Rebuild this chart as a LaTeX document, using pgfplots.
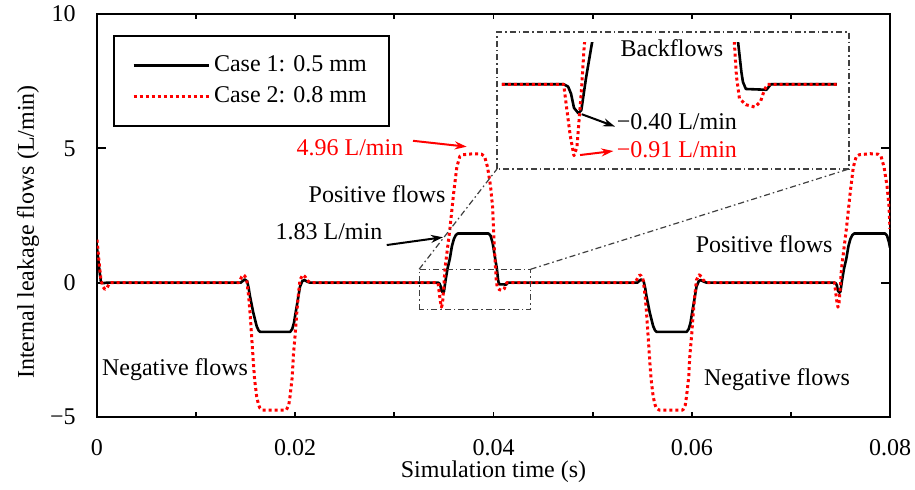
\documentclass[12pt,border=0pt]{standalone}
\usepackage{fontspec}
\setmainfont{Liberation Serif}
\usepackage{pgfplots}
\pgfplotsset{compat=1.18}
\usepackage{pgfplotstable}
\usetikzlibrary{arrows.meta}

% Case 1: 0.5 mm
\pgfplotstableread{
x y
0 1.3
0.0002 0.6
0.0004 0.02
0.0006 -0.02
0.001 0
0.0145 0
0.0146 0.03
0.0149 0.12
0.01515 0.05
0.0153 -0.2
0.01544 -0.52
0.01578 -1.14
0.01611 -1.62
0.0163 -1.78
0.01645 -1.83
0.0195 -1.83
0.0197 -1.72
0.01987 -1.5
0.0200 -1.2
0.0202 -0.77
0.02048 -0.15
0.0207 0.05
0.0209 0.1
0.0212 0.04
0.0215 0
0.0323 0
0.0344 0
0.03455 -0.03
0.03465 -0.12
0.03475 -0.3
0.0349 -0.37
0.0350 -0.33
0.03516 0.08
0.03536 0.52
0.0356 0.9
0.0358 1.35
0.0360 1.62
0.0362 1.77
0.0364 1.83
0.0395 1.83
0.0397 1.75
0.0399 1.5
0.0400 1.3
0.0401 1.05
0.04034 0.52
0.04045 0.15
0.0405 0.03
0.0406 -0.06
0.0413 -0.07
0.04145 0
0.0437 0
0.0545 0
0.0546 0.03
0.0549 0.12
0.05515 0.05
0.0553 -0.2
0.05544 -0.52
0.05578 -1.14
0.05611 -1.62
0.0563 -1.78
0.05645 -1.83
0.0595 -1.83
0.0597 -1.72
0.05987 -1.5
0.0600 -1.2
0.0602 -0.77
0.06048 -0.15
0.0607 0.05
0.0609 0.1
0.0612 0.04
0.0615 0
0.0744 0
0.07455 -0.03
0.07465 -0.12
0.07475 -0.3
0.0749 -0.37
0.0750 -0.33
0.07516 0.08
0.07536 0.52
0.0756 0.9
0.0758 1.35
0.0760 1.62
0.0762 1.77
0.0764 1.83
0.0795 1.83
0.0797 1.75
0.0799 1.5
0.0800 1.3
}\caseone

% Case 2: 0.8 mm
\pgfplotstableread{
x y
0 1.6
0.0002 0.8
0.0004 0.1
0.0006 -0.15
0.0008 -0.25
0.001 -0.2
0.0013 0
0.0143 0
0.0146 0.22
0.01476 0.29
0.0149 0.25
0.0151 0.1
0.0153 -0.5
0.01544 -1.13
0.0156 -2.0
0.01578 -3.0
0.0159 -3.6
0.01611 -4.24
0.0163 -4.55
0.01644 -4.67
0.0167 -4.74
0.0191 -4.74
0.01935 -4.55
0.01947 -4.24
0.0197 -3.5
0.0198 -2.75
0.0200 -1.9
0.02015 -1.14
0.0203 -0.5
0.02048 0.1
0.02075 0.29
0.0210 0.22
0.02115 0.1
0.0215 0
0.0323 0
0.0344 0
0.0345 -0.3
0.03462 -0.65
0.03475 -0.91
0.03485 -0.8
0.0350 -0.1
0.0351 0.5
0.0353 1.1
0.0356 2.0
0.0360 3.4
0.0363 4.3
0.0366 4.7
0.0369 4.76
0.0380 4.8
0.0388 4.78
0.0391 4.7
0.0394 4.3
0.0397 3.6
0.0399 2.85
0.0400 2.0
0.0401 1.2
0.04021 0.52
0.04028 0.1
0.04038 -0.18
0.0406 -0.26
0.0409 -0.29
0.0411 -0.22
0.04123 -0.07
0.04134 0
0.0437 0
0.0543 0
0.0546 0.22
0.05476 0.29
0.0549 0.25
0.0551 0.1
0.0553 -0.5
0.05544 -1.13
0.0556 -2.0
0.05578 -3.0
0.0559 -3.6
0.05611 -4.24
0.0563 -4.55
0.05644 -4.67
0.0567 -4.74
0.0591 -4.74
0.05935 -4.55
0.05947 -4.24
0.0597 -3.5
0.0598 -2.75
0.0600 -1.9
0.06015 -1.14
0.0603 -0.5
0.06048 0.1
0.06075 0.29
0.0610 0.22
0.06115 0.1
0.0615 0
0.0744 0
0.0745 -0.3
0.07462 -0.65
0.07475 -0.91
0.07485 -0.8
0.0750 -0.1
0.0751 0.5
0.0753 1.1
0.0756 2.0
0.0760 3.4
0.0763 4.3
0.0766 4.7
0.0769 4.76
0.0780 4.8
0.0788 4.78
0.0791 4.7
0.0794 4.3
0.0797 3.6
0.0799 2.85
0.0800 2.0
}\casetwo

\tikzset{
  c1/.style={black, line width=1.3pt, line join=round},
  c2/.style={red, line width=1.5pt, dash pattern=on 1.5pt off 1.5pt, line join=round},
  zoombox/.style={black!75, line width=0.6pt, dash pattern=on 3pt off 1.5pt on 0.8pt off 1.5pt},
  arr/.style={line width=1pt, -{Stealth[length=6pt,width=4pt]}},
}

\begin{document}
\begin{tikzpicture}
\path[use as bounding box] (-48.5pt,-36.5pt) rectangle (409pt,208.5pt);
\begin{axis}[
  at={(0,0)}, anchor=south west,
  scale only axis, width=396.5pt, height=201.5pt,
  xmin=0, xmax=0.08, ymin=-5, ymax=10,
  xtick={0,0.02,0.04,0.06,0.08}, xticklabels={0,0.02,0.04,0.06,0.08},
  minor xtick={0.01,0.03,0.05,0.07},
  ytick={-5,0,5,10}, yticklabels={−5,0,5,10},
  scaled x ticks=false,
  /pgf/number format/assume math mode=true,
  tick align=inside,
  axis line style={line width=1.3pt},
  every tick/.style={black, line width=0.9pt},
  xtick style={/pgfplots/major tick length=2.3pt, /pgfplots/minor tick length=2.3pt},
  ytick style={/pgfplots/major tick length=4.5pt},
  xticklabel style={yshift=-7pt},
  yticklabel style={xshift=-6.5pt},
  xlabel={Simulation time (s)},
  ylabel={Internal leakage flows (L/min)},
  xlabel style={at={(axis description cs:0.5,-0.136)}, anchor=center},
  ylabel style={at={(axis description cs:-0.087,0.459)}, anchor=center},
  legend cell align=left,
  legend image code/.code={\draw[#1] (0pt,0pt) -- (37.5pt,0pt);},
  legend style={at={(axis description cs:0.0202,0.948)}, anchor=north west,
    draw=black, line width=1pt, inner xsep=9pt, inner ysep=8pt, row sep=1.7pt,
    nodes={inner sep=2pt, text depth=0.15em},
    /tikz/every even column/.append style={column sep=2pt}},
]
\addplot[c1] table {\caseone};
\addlegendentry{Case 1: 0.5 mm}
\addplot[c2] table {\casetwo};
\addlegendentry{Case 2: 0.8 mm}

% zoom window and its connectors
\draw[zoombox] (axis cs:0.0325,-1) rectangle (axis cs:0.04375,0.5);
\draw[zoombox] (axis cs:0.040353,4.231) rectangle (axis cs:0.07586,9.33);
\draw[zoombox] (axis cs:0.0325,0.5) -- (axis cs:0.040353,4.231);
\draw[zoombox] (axis cs:0.04375,0.5) -- (axis cs:0.07586,4.231);
\coordinate (insSW) at (axis cs:0.040353,4.231);

% annotations
\node[red] at (axis cs:0.02552,5.01) {4.96 L/min};
\draw[arr, red] (axis cs:0.03188,5.28) -- (axis cs:0.0373,5.06);
\node at (axis cs:0.02825,3.30) {Positive flows};
\node at (axis cs:0.0234,1.89) {1.83 L/min};
\draw[arr] (axis cs:0.02923,1.40) -- (axis cs:0.0349,1.69);
\node at (axis cs:0.00787,-3.25) {Negative flows};
\node at (axis cs:0.0673,1.44) {Positive flows};
\node at (axis cs:0.0686,-3.62) {Negative flows};
\node at (axis cs:0.0580,8.73) {Backflows};
\node at (axis cs:0.0585,5.99) {−0.40 L/min};
\draw[arr] (axis cs:0.0489,6.27) -- (axis cs:0.05226,5.81);
\node[red] at (axis cs:0.0585,4.94) {−0.91 L/min};
\draw[arr, red] (axis cs:0.04873,4.75) -- (axis cs:0.05209,4.90);
\end{axis}

% magnified view of the backflow region
\begin{axis}[
  at={(insSW)}, anchor=south west,
  scale only axis, width=176pt, height=63pt,
  xmin=0.03213, xmax=0.04411, ymin=-1.079, ymax=0.526,
  hide axis,
]
\addplot[c1, restrict x to domain=0.0322:0.04375] table {\caseone};
\addplot[c2, restrict x to domain=0.0322:0.04375] table {\casetwo};
\end{axis}
\end{tikzpicture}
\end{document}
